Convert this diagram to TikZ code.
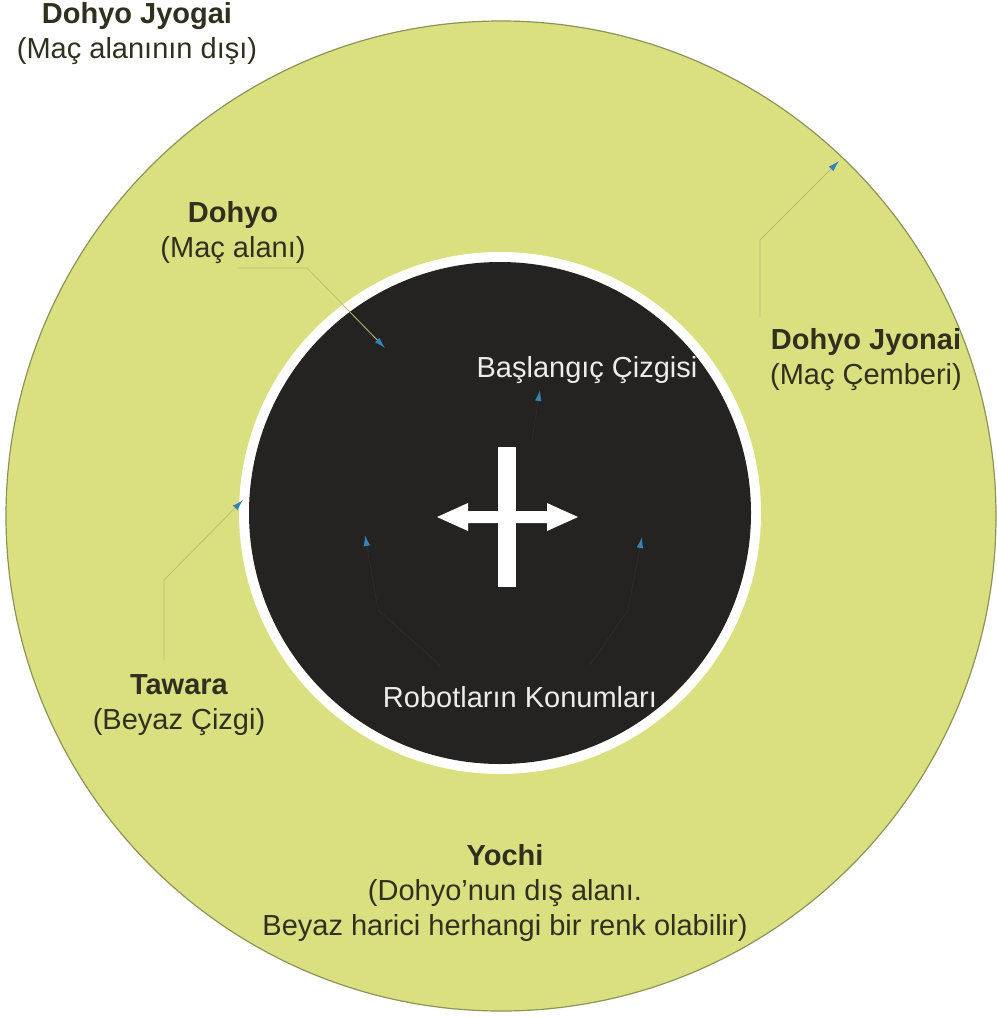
\documentclass[tikz,border=0pt]{standalone}
\usepackage{fontspec}
\setmainfont{Liberation Sans}
\usetikzlibrary{arrows.meta}
\definecolor{mat}{HTML}{DAE07F}
\definecolor{matline}{HTML}{8E9455}
\definecolor{ring}{HTML}{252321}
\definecolor{txt}{HTML}{30301E}
\definecolor{wtxt}{HTML}{ECECEC}
\definecolor{lead}{HTML}{B9C070}
\definecolor{darklead}{HTML}{2F2D2A}
\definecolor{mk}{HTML}{3383B8}
\begin{document}
\begin{tikzpicture}[x=1pt,y=-1pt,
  lbl/.style={text=txt, font=\fontsize{29}{35}\selectfont, align=center, inner sep=0pt},
  wlbl/.style={text=wtxt, font=\fontsize{29}{35}\selectfont, align=center, inner sep=0pt},
  leader/.style={draw=lead, line width=0.8pt, -{Latex[length=11pt,width=6.5pt,color=mk]}},
  darkleader/.style={draw=darklead, line width=0.8pt, -{Latex[length=11pt,width=6.5pt,color=mk]}}]
\useasboundingbox (0,0) rectangle (996,1017);
\fill[white] (0,0) rectangle (996,1017);
% circles
\draw[fill=mat, draw=matline, line width=1.2pt] (501,516) circle[radius=495pt];
\fill[white] (500,513) circle[radius=261pt];
\fill[ring] (500,513) circle[radius=251pt];
% cross
\fill[white] (498,447) rectangle (516,587);
\fill[white] (437,517) -- (468,503) -- (468,511) -- (547,511) -- (547,503) -- (578,517)
  -- (547,531) -- (547,523) -- (468,523) -- (468,531) -- cycle;
% labels
\node[lbl] (jyogai) at (137,34) {\textbf{Dohyo Jyogai}\\(Maç alanının dışı)};
\node[lbl] (dohyo) at (233,233) {\textbf{Dohyo}\\(Maç alanı)};
\node[lbl] (jyonai) at (866,360) {\textbf{Dohyo Jyonai}\\(Maç Çemberi)};
\node[lbl] (tawara) at (179,705) {\textbf{Tawara}\\(Beyaz Çizgi)};
\node[lbl] (yochi) at (505,893) {\textbf{Yochi}\\(Dohyo'nun dış alanı.\\Beyaz harici herhangi bir renk olabilir)};
\node[wlbl] (start) at (587,370) {Başlangıç Çizgisi};
\node[wlbl] (robots) at (520,697) {Robotların Konumları};
% leader coordinates
\coordinate (dA) at (237,268);
\coordinate (dB) at (307,268);
\coordinate (dT) at (385,348);
\coordinate (jA) at (760,317);
\coordinate (jB) at (760,240);
\coordinate (jT) at (839,161);
\coordinate (tA) at (164,660);
\coordinate (tB) at (164,580);
\coordinate (tT) at (243,500);
\coordinate (sA) at (532,440);
\coordinate (sT) at (540,390);
\coordinate (rA) at (440,665);
\coordinate (rB) at (378,610);
\coordinate (rT) at (365,535);
\coordinate (qA) at (590,665);
\coordinate (qB) at (628,610);
\coordinate (qT) at (642,537);
% leaders
\draw[leader] (dA) -- (dB) -- (dT);
\draw[leader] (jA) -- (jB) -- (jT);
\draw[leader] (tA) -- (tB) -- (tT);
\draw[darkleader] (sA) -- (sT);
\draw[darkleader] (rA) -- (rB) -- (rT);
\draw[darkleader] (qA) -- (qB) -- (qT);
\end{tikzpicture}
\end{document}
